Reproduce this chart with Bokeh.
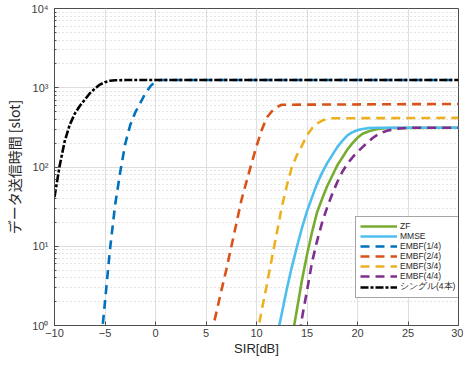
from bokeh.plotting import figure
from bokeh.models import Legend, LegendItem, CustomJSTickFormatter, FixedTicker, Range1d
from bokeh.embed import file_html
from bokeh.resources import INLINE

# ---- data ----
x_zf = [13.5, 14, 14.5, 15, 15.5, 16, 16.5, 17, 17.5, 18, 18.5, 19, 19.5, 20, 20.5, 21, 21.5, 22, 23, 30]
y_zf = [0.68, 1.58, 3.72, 7.8, 15.1, 26.9, 39.8, 57.5, 77.6, 105, 132, 166, 200, 234, 263, 279, 292, 302, 311, 312.5]

x_mmse = [12, 12.5, 13, 13.5, 14, 14.5, 15, 15.5, 16, 16.5, 17, 17.5, 18, 18.5, 19, 19.5, 20, 20.5, 21, 22, 30]
y_mmse = [0.71, 1.41, 2.88, 5.5, 9.8, 17.0, 27.5, 41.7, 61.7, 85, 112, 141, 178, 214, 251, 275, 292, 302, 309, 312.5, 312.5]

x_embf1 = [-5.5, -5, -4.5, -4, -3.5, -3, -2.5, -2, -1.5, -1, -0.5, 0, 0.5, 30]
y_embf1 = [0.44, 2.0, 9.3, 33, 85, 195, 339, 490, 646, 851, 1047, 1202, 1250, 1250]

x_embf2 = [5.5, 6, 6.5, 7, 7.5, 8, 8.5, 9, 9.5, 10, 10.5, 11, 11.5, 12, 12.5, 30]
y_embf2 = [0.76, 1.41, 2.69, 5.0, 9.8, 19.1, 38, 65, 110, 182, 288, 417, 501, 569, 610, 625]

x_embf3 = [10, 10.5, 11, 11.5, 12, 12.5, 13, 13.5, 14, 14.5, 15, 15.5, 16, 16.5, 17, 17.5, 30]
y_embf3 = [0.71, 1.51, 3.16, 6.8, 14.5, 31, 58, 100, 141, 186, 251, 309, 355, 385, 403, 412, 417]

x_embf4 = [14, 14.5, 15, 15.5, 16, 16.5, 17, 17.5, 18, 18.5, 19, 19.5, 20, 20.5, 21, 21.5, 22, 22.5, 23, 24, 25, 30]
y_embf4 = [0.52, 1.23, 2.75, 6.3, 11.7, 20, 30.9, 45.7, 64.6, 87, 110, 132, 155, 178, 204, 232, 257, 275, 288, 305, 312.5, 312.5]

x_single = [-10, -9.5, -9, -8.5, -8, -7.5, -7, -6.5, -6, -5.5, -5, -4.5, -4, -3, 30]
y_single = [41.7, 102, 209, 339, 468, 589, 708, 851, 977, 1096, 1175, 1225, 1242, 1250, 1250]

labels = ["ZF", "MMSE", "EMBF(1/4)", "EMBF(2/4)", "EMBF(3/4)", "EMBF(4/4)", "シングル(4本)"]
x_ticks = [-10, -5, 0, 5, 10, 15, 20, 25, 30]
y_ticks = [1, 10, 100, 1000, 10000]

FONT = "Liberation Sans"
JFONT = "Noto Sans CJK JP"
AX = "#4d4d4d"

p = figure(width=463, height=358, y_axis_type="log",
           x_range=Range1d(-10, 30), y_range=Range1d(1, 10000),
           output_backend="svg", toolbar_location=None,
           min_border_left=53, min_border_right=5, min_border_top=8, min_border_bottom=31)
p.background_fill_color = "white"
p.border_fill_color = "white"
p.outline_line_color = AX
p.outline_line_width = 1

series = [
    (x_zf, y_zf, "#77AC30", None),
    (x_mmse, y_mmse, "#4DBEEE", None),
    (x_embf1, y_embf1, "#0072BD", "9 6"),
    (x_embf2, y_embf2, "#D95319", "9 6"),
    (x_embf3, y_embf3, "#EDB120", "9 6"),
    (x_embf4, y_embf4, "#7E2F8E", "9 6"),
    (x_single, y_single, "black", "8 2 3 2"),
]
items = []
for (xs, ys, c, d), lab in zip(series, labels):
    kw = dict(line_color=c, line_width=2.6)
    if d:
        kw["line_dash"] = d
    r = p.line(xs, ys, **kw)
    items.append(LegendItem(label=lab, renderers=[r]))

leg = Legend(items=items, location=(301, 27))
leg.label_text_font = FONT
leg.label_text_font_size = "8.5px"
leg.label_text_color = "#262626"
leg.label_height = 10
leg.label_standoff = 3
leg.glyph_width = 37
leg.glyph_height = 10
leg.spacing = 0
leg.padding = 4
leg.margin = 0
leg.border_line_color = AX
leg.border_line_width = 1
leg.background_fill_alpha = 1.0
p.add_layout(leg, "center")

# axes
p.xaxis.ticker = FixedTicker(ticks=x_ticks)
p.yaxis.ticker = FixedTicker(ticks=y_ticks, minor_ticks=[m * 10 ** e for e in range(4) for m in range(2, 10)])
p.yaxis.formatter = CustomJSTickFormatter(code="""
const sup = {'0':'\u2070','1':'\u00b9','2':'\u00b2','3':'\u00b3','4':'\u2074'};
const e = Math.round(Math.log10(tick));
return '10' + sup[String(e)];
""")
for ax in (p.xaxis[0], p.yaxis[0]):
    ax.axis_line_color = AX
    ax.major_tick_line_color = AX
    ax.minor_tick_line_color = AX
    ax.major_tick_in = 4
    ax.major_tick_out = 0
    ax.minor_tick_in = 2
    ax.minor_tick_out = 0
    ax.major_label_text_font = FONT
    ax.major_label_text_font_size = "11px"
    ax.major_label_text_color = "#404040"
    ax.axis_label_text_font_style = "normal"
    ax.axis_label_text_color = "#262626"
p.xaxis.minor_tick_line_color = None
p.xaxis.axis_label = "SIR[dB]"
p.xaxis.axis_label_text_font = FONT
p.xaxis.axis_label_text_font_size = "13px"
p.yaxis.axis_label = "データ送信時間 [slot]"
p.yaxis.axis_label_text_font = JFONT
p.yaxis.axis_label_text_font_size = "14px"
p.xaxis.major_label_standoff = 3
p.yaxis.major_label_standoff = 6
p.xaxis.axis_label_standoff = 1
p.yaxis.axis_label_standoff = 5

# grids
p.xgrid.grid_line_color = "#dedede"
p.ygrid.grid_line_color = "#dedede"
p.ygrid.minor_grid_line_color = "#c8c8c8"
p.ygrid.minor_grid_line_dash = "1 3"

open("out.html", "w").write(file_html(p, INLINE))
